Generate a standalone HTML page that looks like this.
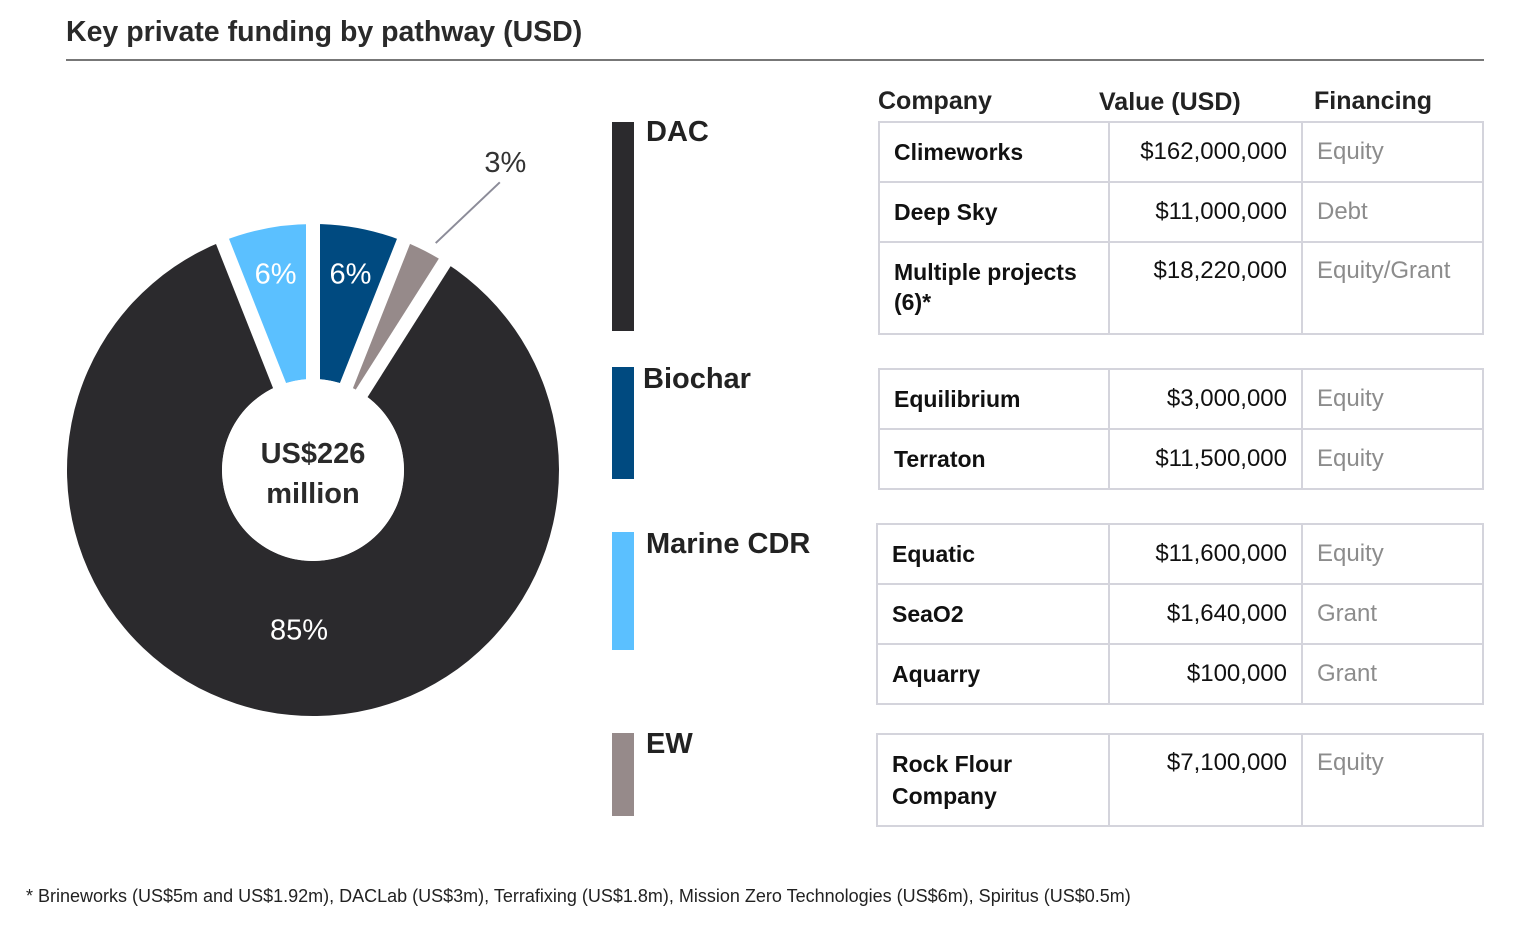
<!DOCTYPE html>
<html><head><meta charset="utf-8"><style>
body{margin:0;background:#fff;font-family:"Liberation Sans",sans-serif;color:#222;}
#wrap{position:relative;width:1535px;height:928px;overflow:hidden;}
.t{position:absolute;white-space:nowrap;}
table{position:absolute;border-collapse:collapse;font-size:24px;color:#111;}
td{border:2px solid #d4d4dc;padding:0 14px;height:56px;vertical-align:middle;}
td:first-child{font-weight:bold;font-size:23px;}
td.v{text-align:right;}
td.f{color:#8c8c8c;}
</style></head><body>
<div id="wrap">
<div class="t" style="left:66px;top:16px;font-size:28.5px;font-weight:bold;color:#2a2a2a;">Key private funding by pathway (USD)</div>
<div style="position:absolute;left:66px;top:59px;width:1418px;height:2px;background:#777;"></div>
<svg id="pie" width="620" height="760" style="position:absolute;left:0;top:100px"></svg>
<div class="t" style="left:222px;top:434px;width:182px;text-align:center;font-size:29px;font-weight:bold;color:#2a2a2a;line-height:40px;">US$226<br>million</div>
<div>
<div style="position:absolute;left:612px;top:122px;width:22px;height:209px;background:#2b2a2d"></div>
<div class="t" style="left:646px;top:116px;font-size:29px;font-weight:bold">DAC</div>
<div style="position:absolute;left:612px;top:367px;width:22px;height:112px;background:#004a80"></div>
<div class="t" style="left:643px;top:363px;font-size:29px;font-weight:bold">Biochar</div>
<div style="position:absolute;left:612px;top:532px;width:22px;height:118px;background:#5bc0ff"></div>
<div class="t" style="left:646px;top:528px;font-size:29px;font-weight:bold">Marine CDR</div>
<div style="position:absolute;left:612px;top:733px;width:22px;height:83px;background:#968a8a"></div>
<div class="t" style="left:646px;top:728px;font-size:29px;font-weight:bold">EW</div>
</div>
<div class="t" style="left:878px;top:87px;font-size:25px;font-weight:bold">Company</div>
<div class="t" style="left:1099px;top:88px;font-size:25px;font-weight:bold">Value (USD)</div>
<div class="t" style="left:1314px;top:87px;font-size:25px;font-weight:bold">Financing</div>
<table style="left:878px;top:121px;width:606px">
<colgroup><col style="width:230px"><col style="width:193px"><col></colgroup>
<tr style="height:60px"><td>Climeworks</td><td class="v">$162,000,000</td><td class="f">Equity</td></tr>
<tr style="height:60px"><td>Deep Sky</td><td class="v">$11,000,000</td><td class="f">Debt</td></tr>
<tr style="height:92px"><td style="vertical-align:top;padding-top:14px;line-height:30px">Multiple projects<br>(6)*</td><td class="v" style="vertical-align:top;padding-top:14px">$18,220,000</td><td class="f" style="vertical-align:top;padding-top:14px">Equity/Grant</td></tr>
</table>
<table style="left:878px;top:368px;width:606px">
<colgroup><col style="width:230px"><col style="width:193px"><col></colgroup>
<tr style="height:60px"><td>Equilibrium</td><td class="v">$3,000,000</td><td class="f">Equity</td></tr>
<tr style="height:60px"><td>Terraton</td><td class="v">$11,500,000</td><td class="f">Equity</td></tr>
</table>
<table style="left:876px;top:523px;width:608px">
<colgroup><col style="width:232px"><col style="width:193px"><col></colgroup>
<tr style="height:60px"><td>Equatic</td><td class="v">$11,600,000</td><td class="f">Equity</td></tr>
<tr style="height:60px"><td>SeaO2</td><td class="v">$1,640,000</td><td class="f">Grant</td></tr>
<tr style="height:60px"><td>Aquarry</td><td class="v">$100,000</td><td class="f">Grant</td></tr>
</table>
<table style="left:876px;top:733px;width:608px">
<colgroup><col style="width:232px"><col style="width:193px"><col></colgroup>
<tr style="height:92px"><td style="line-height:32px">Rock Flour<br>Company</td><td class="v" style="vertical-align:top;padding-top:14px">$7,100,000</td><td class="f" style="vertical-align:top;padding-top:14px">Equity</td></tr>
</table>
<div class="t" style="left:26px;top:886px;font-size:18px;color:#222">* Brineworks (US$5m and US$1.92m), DACLab (US$3m), Terrafixing (US$1.8m), Mission Zero Technologies (US$6m), Spiritus (US$0.5m)</div>
</div>
<script>
const categories=["Marine CDR","Biochar","EW","DAC"];
const shares=[6,6,3,85];
const labels=["6%","6%","3%","85%"];
const colors=["#5bc0ff","#004a80","#968a8a","#2b2a2d"];
const NS="http://www.w3.org/2000/svg";
const svg=document.getElementById('pie');
const cx=313,cy=370,R=246,r=91;
const total=shares.reduce((a,b)=>a+b,0);
const startDeg=-21.6;
function pt(rad,deg){const a=(deg-90)*Math.PI/180;return [cx+rad*Math.cos(a),cy+rad*Math.sin(a)];}
const gSl=document.createElementNS(NS,'g');
const gGap=document.createElementNS(NS,'g');
const gLab=document.createElementNS(NS,'g');
svg.appendChild(gSl);svg.appendChild(gGap);
const hole=document.createElementNS(NS,'circle');
hole.setAttribute('cx',cx);hole.setAttribute('cy',cy);hole.setAttribute('r',r);hole.setAttribute('fill','#fff');


svg.appendChild(hole);
svg.appendChild(gLab);
let a0=startDeg;
shares.forEach((v,i)=>{
  const a1=a0+v/total*360;
  const p1=pt(R,a0),p2=pt(R,a1),p3=pt(r,a1),p4=pt(r,a0);
  const large=(a1-a0)>180?1:0;
  const p=document.createElementNS(NS,'path');
  p.setAttribute('d',`M${p1}A${R},${R} 0 ${large} 1 ${p2}L${p3}A${r},${r} 0 ${large} 0 ${p4}Z`);
  p.setAttribute('fill',colors[i]);
  
  
  gSl.appendChild(p);
  const q1=pt(r-40,a0),q2=pt(R+10,a0);
  const g=document.createElementNS(NS,'line');
  g.setAttribute('x1',q1[0]);g.setAttribute('y1',q1[1]);g.setAttribute('x2',q2[0]);g.setAttribute('y2',q2[1]);
  g.setAttribute('stroke','#fff');g.setAttribute('stroke-width','14');
  
  
  gGap.appendChild(g);
  const mid=(a0+a1)/2;
  const t=document.createElementNS(NS,'text');
  let lp;
  if(v<5){
    const q3=pt(R+12,mid+1.4),q4=pt(R+97,mid+6);
    const l=document.createElementNS(NS,'line');
    l.setAttribute('x1',q3[0]);l.setAttribute('y1',q3[1]);l.setAttribute('x2',q4[0]);l.setAttribute('y2',q4[1]);
    l.setAttribute('stroke','#8c8c99');l.setAttribute('stroke-width','2');
    
    
    gLab.appendChild(l);
    lp=pt(R+117,mid+5);
    t.setAttribute('fill','#333');
  } else if(v>50){lp=pt(160,185);t.setAttribute('fill','#fff');}
  else {lp=pt(200,mid);t.setAttribute('fill','#fff');}
  t.setAttribute('x',lp[0]);t.setAttribute('y',lp[1]+10);
  t.setAttribute('text-anchor','middle');t.setAttribute('font-size','29');
  t.setAttribute('font-family','Liberation Sans, sans-serif');
  t.textContent=labels[i];
  
  
  gLab.appendChild(t);
  a0=a1;
});
</script>
</body></html>
